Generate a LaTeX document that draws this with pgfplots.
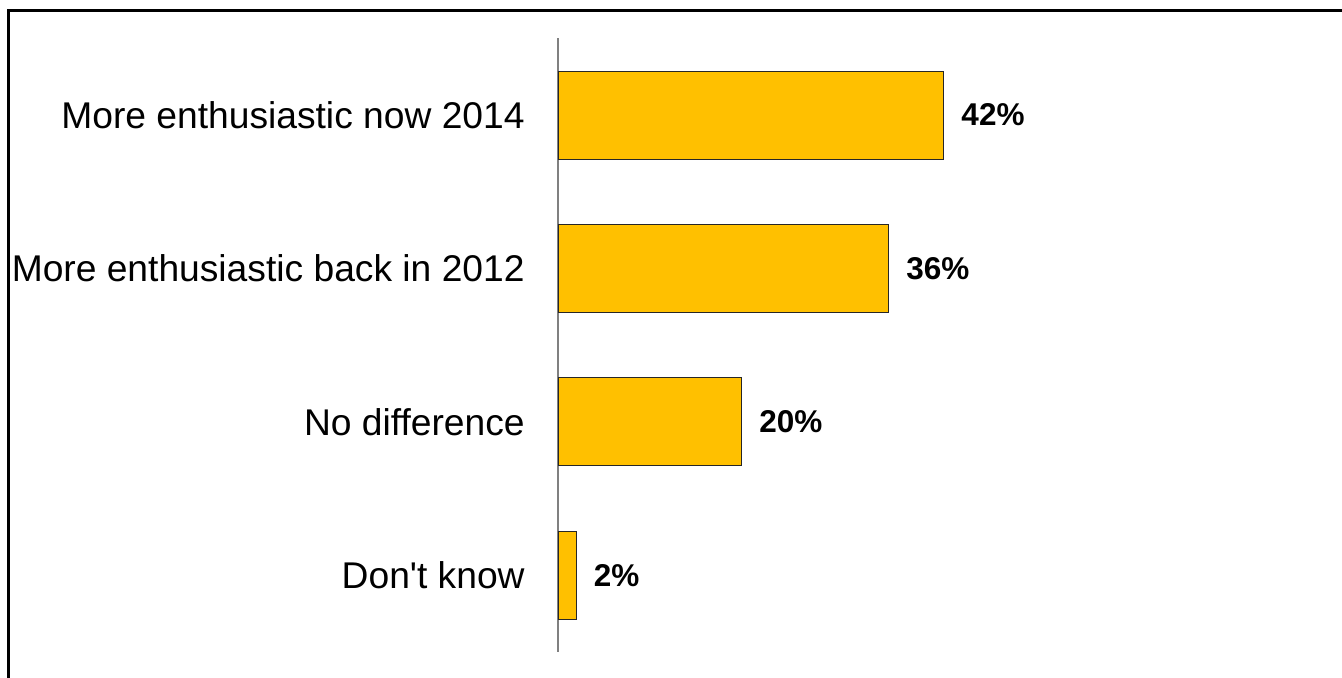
\documentclass[border=0pt]{standalone}
\usepackage{fontspec}
\setmainfont{Liberation Sans}
\usepackage{pgfplots}
\pgfplotsset{compat=1.18}
\definecolor{bargold}{HTML}{FFC000}
\begin{document}
\begin{tikzpicture}
\useasboundingbox (0,0) rectangle (671pt,338.5pt);
\draw[line width=1.5pt, line cap=rect] (4pt,-2pt) -- (4pt,333.5pt) -- (673pt,333.5pt);
\begin{axis}[
  at={(279pt,12.5pt)}, anchor=south west,
  x=4.595pt, y=76.7pt,
  xmin=0, xmax=80,
  ymin=0.5, ymax=4.5,
  y dir=reverse,
  xbar, bar width=44pt, bar shift=0pt,
  separate axis lines,
  axis x line=none,
  axis y line*=left,
  y axis line style={-, draw=gray, line width=0.6pt},
  ytick={1,2,3,4},
  yticklabels={More enthusiastic now 2014, More enthusiastic back in 2012, No difference, Don\textquotesingle t know},
  major tick length=0pt,
  yticklabel style={font=\fontsize{18.6}{22}\selectfont, inner sep=0pt, xshift=-16.5pt},
  nodes near coords={\pgfmathprintnumber[assume math mode=true]{\pgfplotspointmeta}\%},
  nodes near coords style={font=\fontsize{15.75}{18}\selectfont\bfseries, anchor=west, inner sep=0pt, xshift=8.5pt},
  point meta=x,
  clip=false,
]
\addplot[fill=bargold, draw=black!85, line width=0.5pt] coordinates {(42,1) (36,2) (20,3) (2,4)};
\end{axis}
\end{tikzpicture}
\end{document}
